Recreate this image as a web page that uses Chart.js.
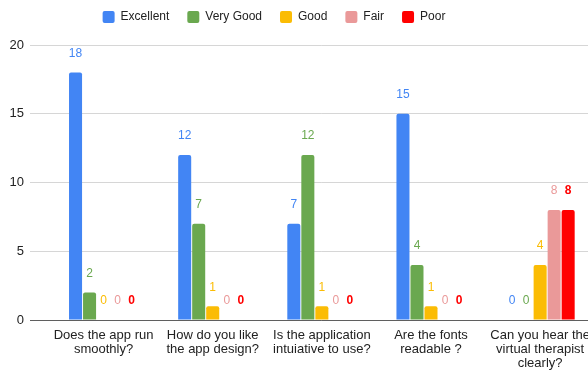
<!DOCTYPE html>
<html>
<head>
<meta charset="utf-8">
<script src="https://cdn.jsdelivr.net/npm/chart.js@4"></script>
<style>
  html, body { margin: 0; padding: 0; overflow: hidden; background: #fff; }
</style>
</head>
<body>
<canvas id="surveyChart" width="598" height="370"></canvas>
<script>
// categories (x axis tick labels, multi-line)
const questions = [
  ["Does the app run", "smoothly?"],
  ["How do you like", "the app design?"],
  ["Is the application", "intuiative to use?"],
  ["Are the fonts", "readable ?"],
  ["Can you hear the", "virtual therapist", "clearly?"],
];

// answers per rating
const excellent = [18, 12, 7, 15, 0];
const veryGood = [2, 7, 12, 4, 0];
const good = [0, 1, 1, 1, 4];
const fair = [0, 0, 0, 0, 8];
const poor = [0, 0, 0, 0, 8];

// y axis ticks
const yTicks = [0, 5, 10, 15, 20];

const FONT = '"Liberation Sans", Arial, sans-serif';

// draw the value above every bar, in the bar colour
const valueLabels = {
  id: "valueLabels",
  afterDatasetsDraw(chart) {
    const ctx = chart.ctx;
    chart.data.datasets.forEach(function (ds, i) {
      const meta = chart.getDatasetMeta(i);
      ctx.save();
      ctx.fillStyle = ds.backgroundColor;
      ctx.font = (ds.label === "Poor" ? "bold " : "") + "12px " + FONT;
      ctx.textAlign = "center";
      ctx.textBaseline = "middle";
      meta.data.forEach(function (bar, j) {
        ctx.fillText(String(ds.data[j]), bar.x, bar.y - 19);
      });
      ctx.restore();
    });
  },
};

// the legend sits over the visible part of the chart, not the whole canvas
const legendPlace = {
  id: "legendPlace",
  afterLayout(chart) {
    const lg = chart.legend;
    lg.left = 0;
    lg.right = 548;
    lg.width = 548;
    lg.top = -7;
    lg.bottom = lg.top + lg.height;
  },
};

const ctx = document.getElementById("surveyChart").getContext("2d");
const surveyChart = new Chart(ctx, {
  type: "bar",
  data: {
    labels: questions,
    datasets: [
      { label: "Excellent", data: excellent, backgroundColor: "#4285f4" },
      { label: "Very Good", data: veryGood, backgroundColor: "#6aa84f" },
      { label: "Good", data: good, backgroundColor: "#fbbc04" },
      { label: "Fair", data: fair, backgroundColor: "#ea9999" },
      { label: "Poor", data: poor, backgroundColor: "#ff0000" },
    ],
  },
  options: {
    responsive: false,
    animation: false,
    layout: { padding: { top: 5, left: 0, right: 0, bottom: 0 } },
    datasets: {
      bar: {
        categoryPercentage: 0.642,
        barPercentage: 0.93,
        borderRadius: 2,
      },
    },
    scales: {
      x: {
        grid: { display: false, drawTicks: false },
        border: { display: false },
        ticks: {
          color: "#222",
          font: { family: FONT, size: 13, lineHeight: 1.1 },
          padding: 8,
          maxRotation: 0,
          autoSkip: false,
        },
        afterFit(scale) {
          scale.height = 50;
        },
      },
      y: {
        min: 0,
        max: 20,
        afterBuildTicks(scale) {
          scale.ticks = yTicks.map(function (v) { return { value: v }; });
        },
        grid: {
          color: function (c) { return c.tick && c.tick.value === 0 ? "#5f5f5f" : "#d6d6d6"; },
          tickLength: 19,
        },
        border: { display: false },
        ticks: {
          color: "#222",
          font: { family: FONT, size: 13 },
          padding: 6,
        },
        afterFit(scale) {
          scale.width = 49;
        },
      },
    },
    plugins: {
      tooltip: { enabled: false },
      legend: {
        position: "top",
        labels: {
          color: "#222",
          font: { family: FONT, size: 12 },
          boxWidth: 12,
          boxHeight: 12,
          padding: 18,
          useBorderRadius: true,
          borderRadius: 2,
        },
      },
    },
  },
  plugins: [valueLabels, legendPlace],
});
</script>
</body>
</html>
